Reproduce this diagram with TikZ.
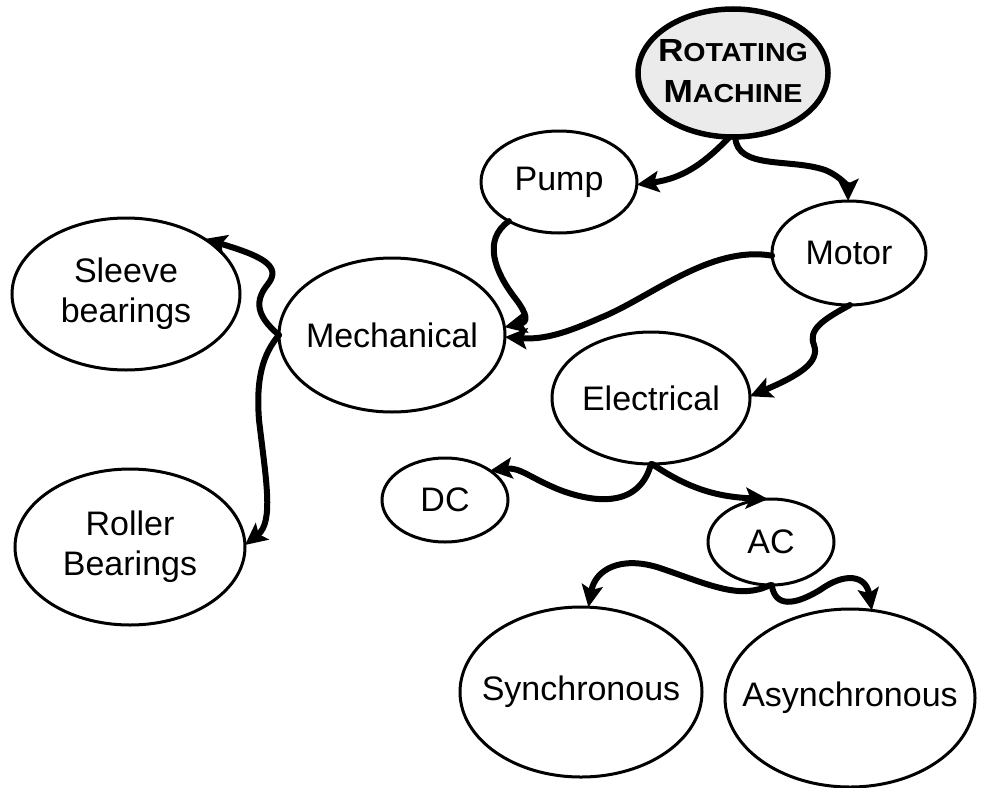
\documentclass[tikz,border=0pt]{standalone}
\usepackage{fontspec}
\setmainfont{Liberation Sans}
\usetikzlibrary{shapes.geometric,arrows.meta}
\definecolor{rmfill}{HTML}{EBEBEB}
\newcommand{\rmtext}[2]{\scalebox{1.1}[1]{\fontsize{32}{41}\selectfont #1\fontsize{26}{41}\selectfont #2}}
\begin{document}
\begin{tikzpicture}[x=1pt,y=-1pt,
  bub/.style={ellipse,draw,line width=3pt,inner sep=0pt,outer sep=0pt},
  txt/.style={inner sep=0pt,align=center,font=\fontsize{34}{40}\selectfont},
  conn/.style={line width=6pt,line cap=round,
    -{Stealth[length=22pt,width=21pt,inset=4.5pt,line cap=butt]}}]
\useasboundingbox (0,0) rectangle (998,787);
% nodes (shapes)
\node[bub,minimum width=190pt,minimum height=128pt,fill=rmfill,line width=5.5pt] (rm) at (733,73) {};
\node[bub,minimum width=156pt,minimum height=102pt] (pump) at (559,182) {};
\node[bub,minimum width=154pt,minimum height=104pt] (motor) at (849,253) {};
\node[bub,minimum width=226pt,minimum height=154pt] (mech) at (392,335) {};
\node[bub,minimum width=228pt,minimum height=152pt] (sleeve) at (126,294) {};
\node[bub,minimum width=230pt,minimum height=156pt] (roller) at (130,547) {};
\node[bub,minimum width=126pt,minimum height=84pt] (dc) at (445,500) {};
\node[bub,minimum width=198pt,minimum height=132pt] (elec) at (651,398) {};
\node[bub,minimum width=126pt,minimum height=86pt] (ac) at (771,542) {};
\node[bub,minimum width=242pt,minimum height=170pt] (sync) at (581,692) {};
\node[bub,minimum width=250pt,minimum height=178pt] (async) at (850,698) {};
% texts
\node[txt,font=\fontsize{26}{41}\selectfont\bfseries] (rmt) at ([yshift=2pt]rm.center)
  {\rmtext{R}{OTATING}\\\rmtext{M}{ACHINE}};
\node[txt] (pumpt) at (pump.center) {Pump};
\node[txt] (motort) at (motor.center) {Motor};
\node[txt] (mecht) at (mech.center) {Mechanical};
\node[txt] (sleevet) at (sleeve.center) {Sleeve\\bearings};
\node[txt] (rollert) at (roller.center) {Roller\\Bearings};
\node[txt] (dct) at (dc.center) {DC};
\node[txt] (elect) at (elec.center) {Electrical};
\node[txt] (act) at (ac.center) {AC};
\node[txt] (synct) at (sync.center) {Synchronous};
\node[txt] (asynct) at (async.center) {Asynchronous};
% connectors
\draw[conn] (rm.-93) .. controls (705,162) and (685,178) .. (pump.-2);
\draw[conn] (rm.-88) .. controls (737,170) and (790,158) .. (825,170)
  .. controls (842,177) and (848,188) .. (motor.91);
\draw[conn] (pump.-142) .. controls (482,240) and (495,272) .. (515,298)
  .. controls (528,315) and (528,322) .. (mech.4);
\draw[conn] (motor.182) .. controls (710,245) and (650,298) .. (600,318)
  .. controls (568,332) and (545,340) .. (mech.-1);
\draw[conn] (motor.-89) .. controls (822,320) and (808,330) .. (814,345)
  .. controls (820,362) and (800,375) .. (elec.1);
\draw[conn] (mech.west) .. controls (255,315) and (255,300) .. (268,284)
  .. controls (282,266) and (262,256) .. (sleeve.35);
\draw[conn] (mech.west) .. controls (262,355) and (256,380) .. (259,420)
  .. controls (266,480) and (274,522) .. (roller.1);
\draw[conn] (elec.-90) .. controls (640,505) and (600,505) .. (560,490)
  .. controls (530,478) and (520,467) .. (dc.33);
\draw[conn] (elec.-89) .. controls (690,490) and (720,497) .. (ac.94);
\draw[conn] (ac.-91) .. controls (740,600) and (710,585) .. (660,568)
  .. controls (620,555) and (595,570) .. (sync.85);
\draw[conn] (ac.-89) .. controls (775,608) and (795,605) .. (820,590)
  .. controls (845,572) and (866,575) .. (async.76);
\end{tikzpicture}
\end{document}
